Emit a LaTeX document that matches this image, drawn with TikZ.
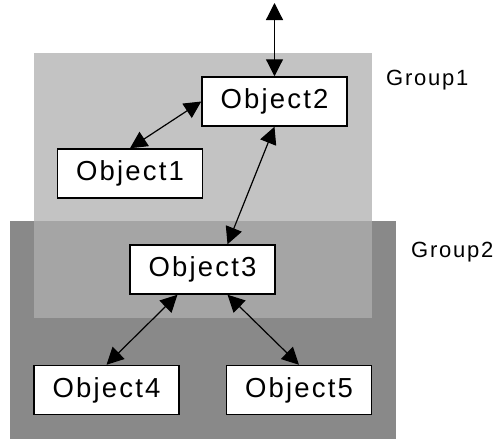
\documentclass[tikz,border=0pt]{standalone}
\usepackage{fontspec}
\setmainfont{Liberation Sans}[LetterSpace=8]
\usetikzlibrary{arrows.meta,calc}
\definecolor{grlight}{RGB}{195,195,195}
\definecolor{grmid}{RGB}{165,165,165}
\definecolor{grdark}{RGB}{137,137,137}
\begin{document}
\begin{tikzpicture}[x=1pt,y=-1pt,
  obj/.style={draw=black,line width=1.5pt,fill=white,minimum width=145pt,minimum height=49pt,inner sep=0pt,font=\fontsize{27.5}{30}\selectfont},
  grplabel/.style={font=\fontsize{22}{26}\selectfont,inner sep=0pt,anchor=west},
  link/.style={line width=1.2pt,{Triangle[length=17pt,width=17pt]}-{Triangle[length=17pt,width=17pt]}}]
\useasboundingbox (0,0) rectangle (498,439);
% groups
\fill[grdark] (10,221) rectangle (396,439);
\fill[grlight] (34,53) rectangle (372,221);
\fill[grmid] (34,221) rectangle (372,318);
\node[grplabel] (g1) at (386,80) {Group1};
\node[grplabel] (g2) at (411,252) {Group2};
% objects
\node[obj] (o1) at (130,173.5) {Object1};
\node[obj] (o2) at (274.5,101.5) {Object2};
\node[obj] (o3) at (202.5,269.5) {Object3};
\node[obj] (o4) at (106.5,390) {Object4};
\node[obj] (o5) at (299,390) {Object5};
% connectors
\coordinate (top) at (274.5,3);
\draw[link] (top) -- (o2.north);
\draw[link] (o1.north) -- (o2.west);
\draw[link] (o2.south) -- ([xshift=25pt]o3.north);
\draw[link] ([xshift=-25pt]o3.south) -- (o4.north);
\draw[link] ([xshift=25pt]o3.south) -- (o5.north);
\end{tikzpicture}
\end{document}
